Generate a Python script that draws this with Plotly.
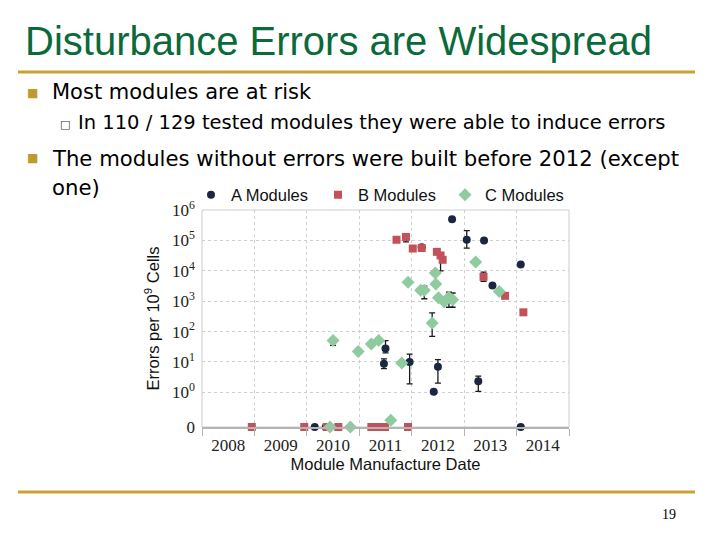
import math
import plotly.graph_objects as go

# ---------------- data ----------------
# Module manufacture date (decimal year) and errors per 1e9 cells (0 = no errors)
A_date = [2012.77, 2013.05, 2013.38, 2014.08, 2012.19, 2013.54, 2011.50, 2011.47,
          2011.96, 2012.50, 2012.42, 2013.27, 2010.15, 2010.36, 2010.40, 2014.08]
A_err = [5.0e5, 1.05e5, 1.0e5, 1.6e4, 6.0e4, 3.3e3, 27.5, 8.7,
         10.0, 6.9, 1.05, 2.3, 0, 0, 0, 0]
A_hi = [5.0e5, 2.1e5, 1.0e5, 1.6e4, 6.0e4, 3.3e3, 50.0, 12.6,
        18.0, 12.0, 1.05, 3.4, 0, 0, 0, 0]
A_lo = [5.0e5, 5.6e4, 1.0e5, 1.6e4, 6.0e4, 3.3e3, 20.0, 6.0,
        1.9, 2.0, 1.05, 1.07, 0, 0, 0, 0]

B_date = [2011.71, 2011.89, 2012.02, 2012.19, 2012.48, 2012.55, 2012.59, 2013.37,
          2013.78, 2014.13, 2008.95, 2009.95, 2010.38, 2010.60, 2011.23, 2011.31,
          2011.39, 2011.49, 2011.93]
B_err = [1.05e5, 1.3e5, 5.4e4, 5.6e4, 4.2e4, 3.2e4, 2.3e4, 6.3e3,
         1.5e3, 430, 0, 0, 0, 0, 0, 0, 0, 0, 0]
B_hi = [1.05e5, 1.3e5, 5.4e4, 5.6e4, 4.2e4, 3.2e4, 2.3e4, 9.0e3,
        1.5e3, 430, 0, 0, 0, 0, 0, 0, 0, 0, 0]
B_lo = [1.05e5, 8.9e4, 5.4e4, 5.6e4, 4.2e4, 1.0e4, 2.3e4, 4.5e3,
        1.5e3, 430, 0, 0, 0, 0, 0, 0, 0, 0, 0]

C_date = [2010.50, 2010.98, 2011.23, 2011.37, 2011.81, 2011.93, 2012.17, 2012.24,
          2012.45, 2012.46, 2012.51, 2012.62, 2012.71, 2012.78, 2012.39, 2013.22,
          2013.67, 2011.60, 2010.44, 2010.83]
C_err = [51, 22, 39, 51, 9.3, 4200, 2300, 2300,
         8500, 3700, 1300, 950, 1350, 1120, 190, 1.95e4,
         2100, 0.12, 0, 0]
C_hi = [62, 22, 39, 51, 9.3, 4200, 2300, 3100,
        8500, 3700, 1300, 950, 2000, 1860, 410, 1.95e4,
        2100, 0.12, 0, 0]
C_lo = [35, 22, 39, 51, 9.3, 4200, 2300, 1200,
        8500, 3700, 1300, 950, 630, 630, 69, 1.95e4,
        2100, 0.12, 0, 0]

year_labels = [2008, 2009, 2010, 2011, 2012, 2013, 2014]
year_bounds = [2008, 2009, 2010, 2011, 2012, 2013, 2014, 2015]
decades = [0, 1, 2, 3, 4, 5, 6]

# ---------------- layout constants ----------------
W, H = 720, 540
PL, PR, PT, PB = 202, 569, 210, 427   # plot area in window pixels
ZERO = -1.14  # where the broken-axis "0" sits, in decades


def pos(v):
    return math.log10(v) if v > 0 else ZERO


def conv(vals, hi, lo):
    y = [pos(v) for v in vals]
    plus = [pos(h) - p for h, p in zip(hi, y)]
    minus = [p - pos(l) for l, p in zip(lo, y)]
    return y, plus, minus


def px(x):
    return x / W


def py(y):
    return (H - y) / H


fig = go.Figure()

series = [
    ("A Modules", A_date, A_err, A_hi, A_lo, "circle", 8, "#1d2640"),
    ("B Modules", B_date, B_err, B_hi, B_lo, "square", 8, "#c1525a"),
    ("C Modules", C_date, C_err, C_hi, C_lo, "diamond", 10, "#8ecb9e"),
]
for name, xs, vals, hi, lo, sym, size, col in series:
    y, plus, minus = conv(vals, hi, lo)
    fig.add_trace(go.Scatter(
        x=xs, y=y, mode="markers", name=name, cliponaxis=False,
        marker=dict(symbol=sym, size=size, color=col, line=dict(width=0)),
        error_y=dict(type="data", symmetric=False, array=plus, arrayminus=minus,
                     color="#1a1a1a", thickness=1.3, width=3),
    ))

tick_font = dict(family="Liberation Serif", size=17, color="#222222")

fig.update_xaxes(
    domain=[px(PL), px(PR)], range=[2008, 2015], automargin=False,
    tickmode="array", tickvals=[yv + 0.5 for yv in year_labels],
    ticktext=[str(yv) for yv in year_labels], ticks="", showgrid=False,
    tickfont=tick_font, ticklabelstandoff=2,
    showline=True, linecolor="#b4b4b4", linewidth=2, zeroline=False,
    minor=dict(tickmode="array", tickvals=year_bounds, ticks="outside",
               ticklen=7, tickcolor="#b4b4b4", tickwidth=1,
               showgrid=True, gridcolor="#cfcfcf", griddash="3px,3px", gridwidth=1),
    title=dict(text="Module Manufacture Date", standoff=1,
               font=dict(family="Liberation Sans", size=16.5, color="#111111")),
)

fig.update_yaxes(
    domain=[py(PB), py(PT)], range=[ZERO, 6], automargin=False,
    tickmode="array", tickvals=[ZERO] + decades,
    ticktext=["0"] + ["10<sup>%d</sup>" % d for d in decades],
    tickfont=tick_font, ticks="", ticklabelstandoff=6,
    showgrid=True, gridcolor="#cfcfcf", griddash="3px,3px", gridwidth=1,
    zeroline=False, showline=False,
    title=dict(text="Errors per 10<sup>9</sup> Cells", standoff=8,
               font=dict(family="Liberation Sans", size=16.5, color="#111111")),
)

shapes = [
    # plot frame
    dict(type="rect", xref="x domain", yref="y domain", x0=0, x1=1, y0=0, y1=1,
         line=dict(color="#cdcdcd", width=1), layer="below"),
    # slide rules
    dict(type="line", xref="paper", yref="paper", x0=px(18), x1=px(695),
         y0=py(72), y1=py(72), line=dict(color="#c9a232", width=3)),
    dict(type="line", xref="paper", yref="paper", x0=px(18), x1=px(695),
         y0=py(492), y1=py(492), line=dict(color="#c9a232", width=3)),
]

body = dict(family="DejaVu Sans", color="#000000")
bullet = dict(family="DejaVu Sans", size=12, color="#c09a2c")
ann = [
    dict(text="Disturbance Errors are Widespread", x=px(23), y=py(41),
         font=dict(family="Liberation Sans", size=40, color="#0b6a3a")),
    dict(text="■", x=px(25), y=py(93), font=bullet),
    dict(text="Most modules are at risk", x=px(50), y=py(92), font=dict(size=21, **body)),
    dict(text="□", x=px(58), y=py(124.5), font=dict(family="DejaVu Sans", size=11, color="#333333")),
    dict(text="In 110 / 129 tested modules they were able to induce errors", x=px(76), y=py(123),
         font=dict(size=19.5, **body)),
    dict(text="■", x=px(25), y=py(158), font=bullet),
    dict(text="The modules without errors were built before 2012 (except", x=px(50), y=py(158),
         font=dict(size=21.2, **body)),
    dict(text="one)", x=px(50), y=py(187), font=dict(size=21.2, **body)),
    dict(text="19", x=px(660), y=py(514), font=dict(family="Liberation Serif", size=14, color="#000000")),
]
for a in ann:
    a.update(xref="paper", yref="paper", xanchor="left", yanchor="middle", showarrow=False)

fig.update_layout(
    width=W, height=H, autosize=False,
    margin=dict(l=0, r=0, t=0, b=0, pad=0, autoexpand=False),
    paper_bgcolor="white", plot_bgcolor="white",
    shapes=shapes, annotations=ann,
    legend=dict(orientation="h", x=px((PL + PR) / 2 - 4), xanchor="center",
                y=py(195), yanchor="middle", itemwidth=30,
                entrywidth=82, entrywidthmode="pixels",
                font=dict(family="Liberation Sans", size=16.5, color="#111111"),
                bgcolor="rgba(0,0,0,0)"),
)

fig.write_html(
    "out.html",
    config={"displayModeBar": False},
    post_script="document.body.style.margin='0px';document.body.style.overflow='hidden';",
)
